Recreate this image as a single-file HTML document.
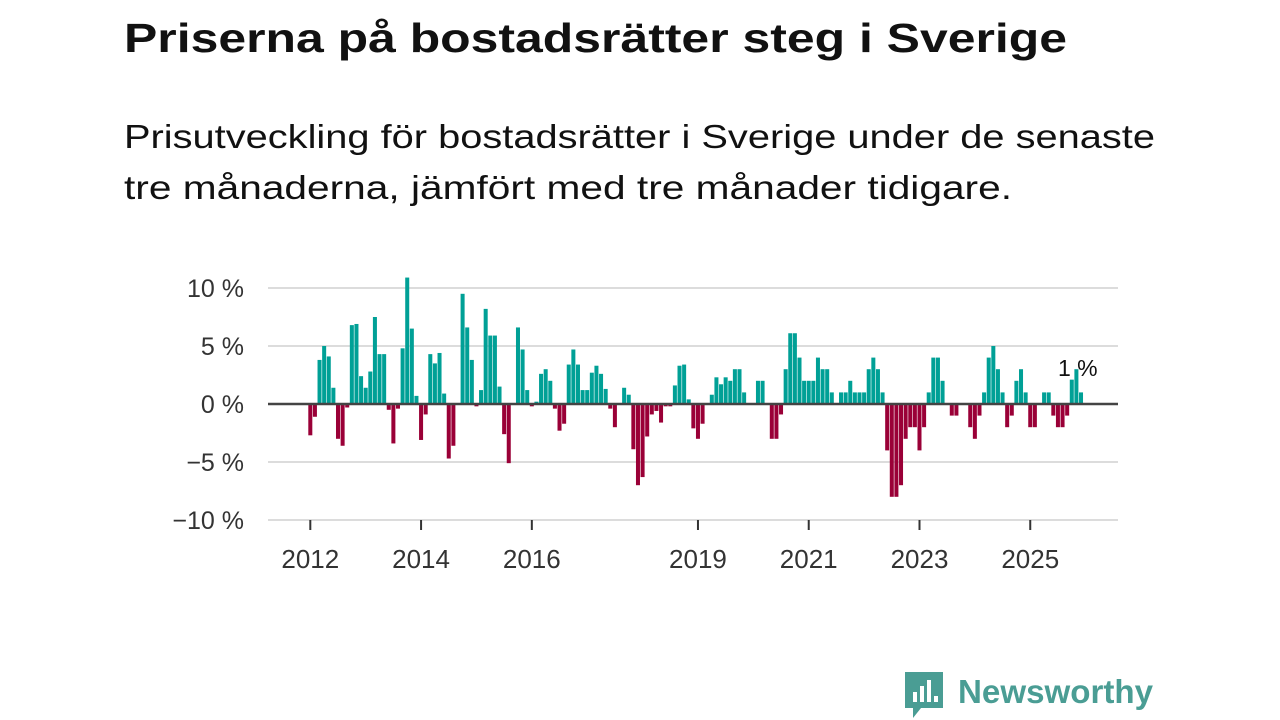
<!DOCTYPE html>
<html><head><meta charset="utf-8"><style>
html,body{margin:0;padding:0;background:#fff;}
svg{display:block;font-family:"Liberation Sans","DejaVu Sans",sans-serif;}
</style></head><body>
<svg id="chart" width="1280" height="720" viewBox="0 0 1280 720">
<text x="124" y="52" font-size="41" font-weight="bold" fill="#111" textLength="943" lengthAdjust="spacingAndGlyphs">Priserna på bostadsrätter steg i Sverige</text>
<text x="124" y="148" font-size="33" fill="#111" textLength="1031" lengthAdjust="spacingAndGlyphs">Prisutveckling för bostadsrätter i Sverige under de senaste</text>
<text x="124" y="199" font-size="33" fill="#111" textLength="888" lengthAdjust="spacingAndGlyphs">tre månaderna, jämfört med tre månader tidigare.</text>
<g id="grid"></g>
<g id="bars"></g>
<g id="axes"></g>
<text x="1058" y="376" font-size="23" fill="#111">1 %</text>
<g>
<path d="M905 672h38v36h-22l-8 10v-10h-8z" fill="#4a9d94"/>
<rect x="913" y="692" width="4" height="10" fill="#fff"/><rect x="920" y="686" width="4" height="16" fill="#fff"/><rect x="927" y="680" width="4" height="22" fill="#fff"/><rect x="934" y="696" width="4" height="6" fill="#fff"/>
<text x="958" y="703" font-size="33" font-weight="bold" fill="#4a9d94" textLength="195" lengthAdjust="spacingAndGlyphs">Newsworthy</text>
</g>
</svg>
<script>
const startYear = 2012;
const values = [
-2.7,-1.1,3.8,5.0,4.1,1.4,-3.0,-3.6,-0.3,6.8,6.9,2.4,
1.4,2.8,7.5,4.3,4.3,-0.5,-3.4,-0.4,4.8,10.9,6.5,0.7,
-3.1,-0.9,4.3,3.5,4.4,0.9,-4.7,-3.6,0,9.5,6.6,3.8,
-0.2,1.2,8.2,5.9,5.9,1.5,-2.6,-5.1,0,6.6,4.7,1.2,
-0.2,0.2,2.6,3.0,2.0,-0.4,-2.3,-1.7,3.4,4.7,3.4,1.2,
1.2,2.7,3.3,2.6,1.3,-0.4,-2.0,0,1.4,0.8,-3.9,-7.0,
-6.3,-2.8,-0.9,-0.6,-1.6,-0.2,-0.2,1.6,3.3,3.4,0.4,-2.1,
-3.0,-1.7,0,0.8,2.3,1.7,2.3,2.0,3.0,3.0,1.0,0,
0,2.0,2.0,0,-3.0,-3.0,-0.9,3.0,6.1,6.1,4.0,2.0,
2.0,2.0,4.0,3.0,3.0,1.0,0,1.0,1.0,2.0,1.0,1.0,
1.0,3.0,4.0,3.0,1.0,-4.0,-8.0,-8.0,-7.0,-3.0,-2.0,-2.0,
-4.0,-2.0,1.0,4.0,4.0,2.0,0,-1.0,-1.0,0,0,-2.0,
-3.0,-1.0,1.0,4.0,5.0,3.0,1.0,-2.0,-1.0,2.0,3.0,1.0,
-2.0,-2.0,0,1.0,1.0,-1.0,-2.0,-2.0,-1.0,2.1,3.0,1.0
];
const yTicks = [10,5,0,-5,-10];
const yTickLabels = ["10 %","5 %","0 %","\u22125 %","\u221210 %"];
const xTickYears = [2012,2014,2016,2019,2021,2023,2025];

const NS = "http://www.w3.org/2000/svg";
const x0 = 308, mw = 4.615;
function xMonth(i){ return x0 + mw*i; }
function y(v){ return 404 - v*11.6; }
function mk(tag, attrs, parent){ const e=document.createElementNS(NS,tag); for(const k in attrs) e.setAttribute(k,attrs[k]); parent.appendChild(e); return e; }

const grid=document.getElementById('grid'), bars=document.getElementById('bars'), axes=document.getElementById('axes');
yTicks.forEach((t,k)=>{
  if(t!==0){
    const l=mk('line',{x1:268,x2:1118,y1:y(t),y2:y(t),stroke:'#dcdcdc','stroke-width':2},grid);
    
    
  }
  const tx=mk('text',{x:244,y:y(t)+9,'font-size':25,fill:'#333','text-anchor':'end'},axes);
  tx.textContent=yTickLabels[k];
  
  
});
values.forEach((v,i)=>{
  if(v===0) return;
  const r=mk('rect',{x:xMonth(i)+0.3,width:mw-0.6,y:Math.min(y(v),y(0)),height:Math.abs(y(v)-y(0)),fill:v>0?'#00a096':'#9a0037'},bars);
  
  
});
const zl=mk('line',{x1:268,x2:1118,y1:y(0),y2:y(0),stroke:'#444','stroke-width':2.5},axes);


xTickYears.forEach(yr=>{
  const cx=xMonth((yr-startYear)*12)+mw/2;
  const t=mk('line',{x1:cx,x2:cx,y1:520,y2:530,stroke:'#333','stroke-width':2},axes);
  
  
  const tx=mk('text',{x:cx,y:568,'font-size':26,fill:'#333','text-anchor':'middle'},axes);
  tx.textContent=String(yr);
  
  
});
</script>
</body></html>
